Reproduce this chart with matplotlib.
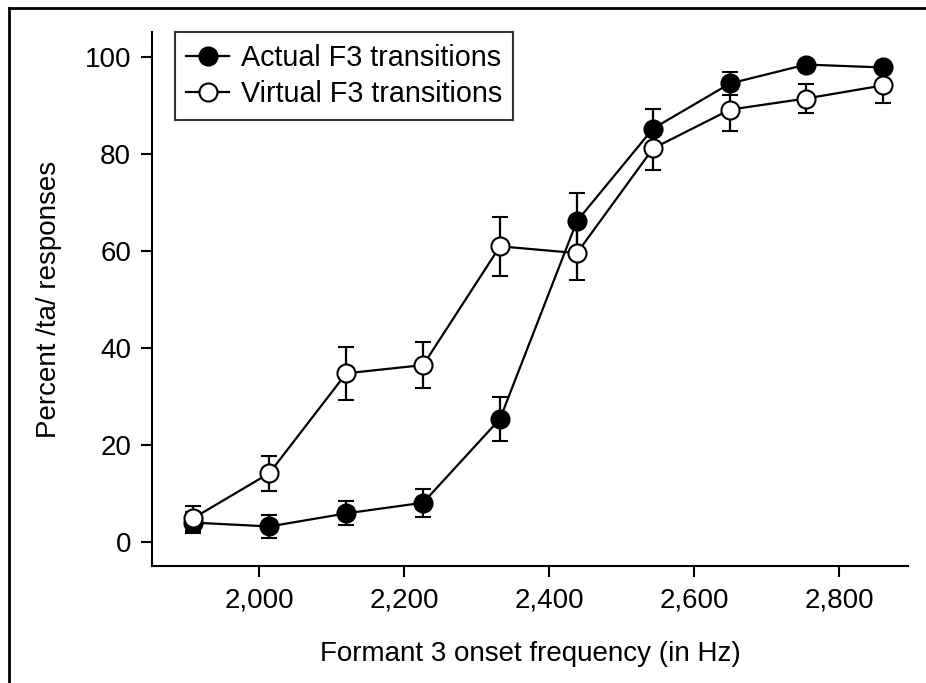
import matplotlib.pyplot as plt
from matplotlib.lines import Line2D

plt.rcParams['font.family'] = ['Liberation Sans', 'DejaVu Sans']

# F3 onset frequency (Hz) and % /ta/ responses
freq = [1909, 2014, 2120, 2226, 2332, 2438, 2543, 2649, 2754, 2860]
actual = [4.0, 3.2, 5.9, 8.1, 25.4, 66.2, 85.3, 94.6, 98.5, 97.9]
actual_err = [2.2, 2.3, 2.5, 2.9, 4.5, 5.8, 4.1, 2.4, 0.8, 0.8]
virtual = [4.9, 14.2, 34.8, 36.5, 61.0, 59.6, 81.2, 89.2, 91.5, 94.2]
virtual_err = [2.6, 3.6, 5.5, 4.7, 6.1, 5.6, 4.5, 4.4, 3.0, 3.6]

xticks = [2000, 2200, 2400, 2600, 2800]
xticklabels = ['2,000', '2,200', '2,400', '2,600', '2,800']
yticks = [0, 20, 40, 60, 80, 100]

fs = 20

fig = plt.figure(figsize=(9.26, 6.83), dpi=100)
ax = fig.add_axes([0.164, 0.171, 0.817, 0.782])

ax.errorbar(freq, actual, yerr=actual_err, color='black', lw=1.6,
            marker='o', ms=13, mfc='black', mec='black', mew=1.5,
            elinewidth=1.6, capsize=6, capthick=1.6, zorder=3)
ax.errorbar(freq, virtual, yerr=virtual_err, color='black', lw=1.6,
            marker='o', ms=13, mfc='white', mec='black', mew=1.5,
            elinewidth=1.6, capsize=6, capthick=1.6, zorder=4)

ax.set_xlim(1852, 2895)
ax.set_ylim(-5, 105.2)
ax.set_xticks(xticks)
ax.set_xticklabels(xticklabels)
ax.set_yticks(yticks)
ax.tick_params(labelsize=fs, length=8, width=1.5, direction='out', pad=7)
for s in ['top', 'right']:
    ax.spines[s].set_visible(False)
for s in ['left', 'bottom']:
    ax.spines[s].set_linewidth(1.5)

ax.set_xlabel('Formant 3 onset frequency (in Hz)', fontsize=fs, labelpad=20)
ax.set_ylabel('Percent /ta/ responses', fontsize=fs, labelpad=16)

handles = [
    Line2D([], [], color='black', lw=1.6, marker='o', ms=13, mfc='black', mec='black', mew=1.5),
    Line2D([], [], color='black', lw=1.6, marker='o', ms=13, mfc='white', mec='black', mew=1.5),
]
leg = ax.legend(handles, ['Actual F3 transitions', 'Virtual F3 transitions'],
                loc='upper left', bbox_to_anchor=(0.03, 1.0), fontsize=20.7,
                frameon=True, fancybox=False, edgecolor='black',
                handlelength=1.5, handletextpad=0.4, borderpad=0.4,
                labelspacing=0.3, borderaxespad=0.0)
leg.get_frame().set_linewidth(1.5)

# outer frame (top and left only)
fig.add_artist(Line2D([9 / 926, 1], [1 - 8 / 683, 1 - 8 / 683], color='black', lw=2))
fig.add_artist(Line2D([9 / 926, 9 / 926], [0, 1 - 8 / 683], color='black', lw=2))

fig.savefig('out.png', dpi=100)
